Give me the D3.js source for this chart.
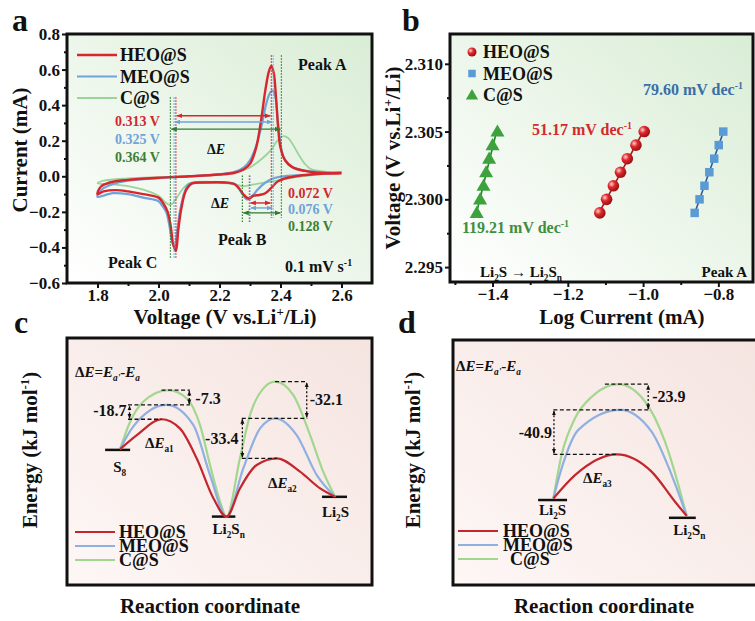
<!DOCTYPE html>
<html>
<head>
<meta charset="utf-8">
<script src="https://cdn.jsdelivr.net/npm/d3@7"></script>
<style>
  body { margin: 0; background: #fff; }
  svg text { font-family: "Liberation Serif", "Times New Roman", serif; font-weight: bold; }
</style>
</head>
<body>
<script>
// ---------------- data ----------------
var series = ["HEO@S", "MEO@S", "C@S"];

// panel a: CV loops [voltage V, current mA], cathodic sweep then anodic sweep
var heoCV = [[2.60,0.02],[2.55,0.015],[2.50,0.01],[2.45,0.0],[2.41,-0.015],[2.39,-0.03],[2.37,-0.065],
  [2.35,-0.095],[2.33,-0.105],[2.31,-0.11],[2.295,-0.125],[2.28,-0.105],[2.265,-0.07],[2.25,-0.045],
  [2.22,-0.035],[2.15,-0.035],[2.11,-0.04],[2.09,-0.08],[2.075,-0.18],[2.065,-0.30],[2.057,-0.42],
  [2.048,-0.38],[2.04,-0.28],[2.03,-0.20],[2.015,-0.15],[2.0,-0.12],[1.95,-0.10],[1.9,-0.085],
  [1.86,-0.078],[1.82,-0.085],[1.80,-0.10],
  [1.81,-0.06],[1.84,-0.035],[1.9,-0.02],[2.0,-0.008],[2.1,0.0],[2.2,0.01],[2.25,0.02],[2.28,0.04],
  [2.30,0.07],[2.32,0.16],[2.335,0.30],[2.35,0.48],[2.362,0.59],[2.37,0.62],[2.378,0.58],[2.385,0.45],
  [2.392,0.28],[2.40,0.16],[2.415,0.09],[2.44,0.05],[2.48,0.03],[2.52,0.02],[2.60,0.015]];
var meoCV = [[2.60,0.02],[2.50,0.01],[2.45,0.005],[2.41,0.0],[2.38,-0.01],[2.36,-0.025],[2.34,-0.05],
  [2.32,-0.085],[2.30,-0.125],[2.29,-0.13],[2.275,-0.10],[2.26,-0.06],[2.245,-0.04],[2.2,-0.035],
  [2.15,-0.035],[2.1,-0.045],[2.085,-0.09],[2.07,-0.20],[2.06,-0.32],[2.053,-0.40],[2.045,-0.37],
  [2.035,-0.27],[2.025,-0.20],[2.01,-0.16],[2.0,-0.14],[1.95,-0.12],[1.9,-0.10],[1.85,-0.095],[1.80,-0.115],
  [1.81,-0.08],[1.84,-0.05],[1.9,-0.025],[2.0,-0.01],[2.1,0.0],[2.2,0.012],[2.25,0.025],[2.28,0.05],
  [2.30,0.09],[2.32,0.17],[2.34,0.30],[2.355,0.42],[2.368,0.475],[2.376,0.48],[2.384,0.44],[2.392,0.30],
  [2.40,0.18],[2.41,0.11],[2.43,0.06],[2.47,0.035],[2.52,0.025],[2.60,0.02]];
var csCV = [[2.60,0.02],[2.55,0.015],[2.50,0.005],[2.45,-0.005],[2.40,-0.02],[2.35,-0.035],[2.30,-0.05],
  [2.272,-0.055],[2.25,-0.045],[2.2,-0.035],[2.15,-0.03],[2.1,-0.04],[2.08,-0.07],[2.06,-0.12],
  [2.045,-0.155],[2.036,-0.16],[2.025,-0.15],[2.0,-0.11],[1.95,-0.075],[1.9,-0.055],[1.85,-0.045],[1.80,-0.04],
  [1.82,-0.025],[1.9,-0.012],[2.0,-0.005],[2.1,0.0],[2.2,0.01],[2.25,0.02],[2.30,0.05],[2.34,0.10],
  [2.37,0.15],[2.39,0.20],[2.409,0.226],[2.425,0.215],[2.44,0.18],[2.46,0.12],[2.48,0.07],[2.50,0.04],
  [2.55,0.025],[2.60,0.02]];
var peakA = [2.370, 2.376, 2.403];
var peakB = [2.298, 2.300, 2.275];
var peakC = [2.057, 2.051, 2.039];
var gapAC = ["0.313 V", "0.325 V", "0.364 V"];
var gapAB = ["0.072 V", "0.076 V", "0.128 V"];
var arrowAC = [0.34, 0.305, 0.265];
var arrowAB = [-0.15, -0.178, -0.206];
var cvXTicks = [1.8, 2.0, 2.2, 2.4, 2.6];
var cvXMinor = [1.9, 2.1, 2.3, 2.5];
var cvYTicks = [-0.6, -0.4, -0.2, 0.0, 0.2, 0.4, 0.6, 0.8];
var cvYMinor = [-0.5, -0.3, -0.1, 0.1, 0.3, 0.5, 0.7];

// panel b: Tafel points, voltage vs log current
var tafelV = [2.299, 2.300, 2.301, 2.302, 2.303, 2.304, 2.305];
var heoLogI = [-1.115, -1.097, -1.079, -1.060, -1.042, -1.019, -0.997];
var meoLogI = [-0.863, -0.850, -0.837, -0.824, -0.811, -0.799, -0.787];
var csLogI = [-1.442, -1.433, -1.424, -1.417, -1.409, -1.400, -1.387];
var tafelSlopes = ["51.17", "79.60", "119.21"];
var tafelXTicks = [-1.4, -1.2, -1.0, -0.8];
var tafelXMinor = [-1.5, -1.3, -1.1, -0.9];
var tafelYTicks = [2.295, 2.300, 2.305, 2.310];
var tafelYMinor = [2.2975, 2.3025, 2.3075];

// panel c: energy profile [reaction coordinate, relative energy]
var heoPathC = [[1.74,55],[2.29,60.7],[3.10,67.1],[3.70,63.4],[4.25,51.3],[4.80,35.1],[5.23,27.7],
  [5.67,39.1],[6.22,48.6],[6.88,51.3],[7.64,45.9],[8.30,39.1],[8.79,35.7]];
var meoPathC = [[1.74,55],[2.17,64.1],[3.27,72.9],[4.14,64.8],[4.69,44.5],[5.23,27.7],
  [5.78,47.2],[6.33,63.4],[6.82,67.5],[7.53,60.7],[8.19,44.5],[8.79,35.7]];
var csPathC = [[1.74,55],[2.07,66.1],[2.50,74.2],[3.32,78.9],[3.92,75.6],[4.36,64.8],[4.69,48.6],
  [5.02,33.7],[5.23,27.7],[5.67,51.3],[6.0,68.8],[6.44,79.6],[6.82,82.3],[7.42,76.9],[7.97,60.7],
  [8.40,45.9],[8.79,35.7]];
var levelsC = [["S8", 1.25, 2.07, 54.7], ["Li2Sn", 4.75, 5.52, 27.7], ["Li2S", 8.36, 9.18, 35.7]];
var gapsC = ["-18.7", "-7.3", "-33.4", "-32.1"];

// panel d: energy profile
var heoPathD = [[3.29,35],[4.0,44.5],[5.37,52.9],[6.51,45.9],[7.28,33.7],[7.66,28]];
var meoPathD = [[3.29,35],[3.56,47.2],[4.11,62.8],[5.48,70.9],[6.51,62.1],[7.17,44.5],[7.66,28]];
var csPathD = [[3.29,35],[3.56,52.6],[4.0,67.5],[4.55,76.2],[5.42,81.3],[6.30,74.2],[6.95,58.0],[7.39,40.5],[7.66,28]];
var levelsD = [["Li2S", 2.79, 3.74, 34.4], ["Li2Sn", 7.08, 7.96, 27.2]];
var gapsD = ["-23.9", "-40.9"];

// ---------------- styles ----------------
var cvColors = ["#d7262c", "#6fa3da", "#9bd49b"];
var cvTextColors = ["#d0282e", "#6fa3da", "#3d7f35"];
var cvDotColors = ["#d7262c", "#6fa3da", "#2f7d32"];
var cvWidths = [2.4, 2.2, 1.8];
var tafelFill = ["#e0282c", "#5b9bd5", "#3da23d"];
var tafelLine = ["#a8161b", "#2a5b9e", "#27802a"];
var tafelText = ["#d42a2e", "#3a6ea5", "#3f8f3f"];
var profColors = ["#c3262c", "#8fb0e0", "#a3d68e"];

var svg = d3.select("body").append("svg").attr("width", 755).attr("height", 621);
var defs = svg.append("defs");

function grad(id, c0, c1) {
  var g = defs.append("linearGradient").attr("id", id)
      .attr("x1", 0).attr("y1", 1).attr("x2", 1).attr("y2", 0);
  g.append("stop").attr("offset", "0%").attr("stop-color", c0);
  g.append("stop").attr("offset", "100%").attr("stop-color", c1);
}
grad("bgGreen", "#ffffff", "#d9edd5");
grad("bgPink", "#fdf7f6", "#f5e4e0");

function arrowMarker(id, color, size) {
  defs.append("marker").attr("id", id).attr("viewBox", "0 0 10 10")
      .attr("refX", 9).attr("refY", 5)
      .attr("markerWidth", size).attr("markerHeight", size)
      .attr("markerUnits", "userSpaceOnUse").attr("orient", "auto-start-reverse")
    .append("path").attr("d", "M0,1L10,5L0,9Z").attr("fill", color);
}
cvDotColors.forEach(function(c, i) { arrowMarker("arr" + i, c, 6); });
arrowMarker("arrK", "#111", 5);

var ball = defs.append("radialGradient").attr("id", "ball").attr("cx", "35%").attr("cy", "35%").attr("r", "65%");
ball.append("stop").attr("offset", "0%").attr("stop-color", "#ffd0d0");
ball.append("stop").attr("offset", "45%").attr("stop-color", "#e0282c");
ball.append("stop").attr("offset", "100%").attr("stop-color", "#9c1014");

// text with sub/superscripts: parts = [[text, "sub"|"sup"|null, italic]]
function rich(t, parts, size) {
  var cur = 0;
  parts.forEach(function(p) {
    var off = p[1] === "sub" ? size * 0.28 : p[1] === "sup" ? -size * 0.4 : 0;
    var ts = t.append("tspan").attr("dy", off - cur).text(p[0]);
    if (p[1]) ts.attr("font-size", size * 0.62);
    if (p[2]) ts.attr("font-style", "italic");
    cur = off;
  });
  return t;
}

function label(x, y, parts, size, opts) {
  opts = opts || {};
  var t = svg.append("text").attr("x", x).attr("y", y + size * 0.34)
      .attr("font-size", size).attr("fill", opts.fill || "#111")
      .attr("text-anchor", opts.anchor || "start");
  if (opts.rotate) t.attr("transform", "rotate(-90," + x + "," + y + ")");
  if (typeof parts === "string") t.text(parts); else rich(t, parts, size);
  return t;
}

function chem(name) {
  if (name === "S8") return [["S"], ["8", "sub"]];
  if (name === "Li2Sn") return [["Li"], ["2", "sub"], ["S"], ["n", "sub"]];
  return [["Li"], ["2", "sub"], ["S"]];
}

function panelBox(id, x0, y0, x1, y1, fill) {
  svg.append("rect").attr("x", x0).attr("y", y0).attr("width", x1 - x0).attr("height", y1 - y0)
      .attr("fill", "url(#" + fill + ")");
  defs.append("clipPath").attr("id", id)
    .append("rect").attr("x", x0).attr("y", y0).attr("width", x1 - x0).attr("height", y1 - y0);
  return svg.append("g").attr("clip-path", "url(#" + id + ")");
}
function frame(x0, y0, x1, y1) {
  svg.append("rect").attr("x", x0).attr("y", y0).attr("width", x1 - x0).attr("height", y1 - y0)
      .attr("fill", "none").attr("stroke", "#111").attr("stroke-width", 3);
}

function axes(x, y, xt, xm, yt, ym, xf, yf) {
  var yb = y.range()[0], xl = x.range()[0];
  function style(g) {
    g.select(".domain").remove();
    g.selectAll("line").attr("stroke", "#111").attr("stroke-width", 2);
    g.selectAll("text").attr("font-size", 17).attr("fill", "#111")
      .style("font-family", "'Liberation Serif','Times New Roman',serif").style("font-weight", "bold");
  }
  svg.append("g").attr("transform", "translate(0," + yb + ")")
    .call(d3.axisBottom(x).tickValues(xt).tickSize(5).tickPadding(1).tickFormat(d3.format(xf))).call(style);
  svg.append("g").attr("transform", "translate(0," + yb + ")")
    .call(d3.axisBottom(x).tickValues(xm).tickSize(3).tickFormat("")).call(style);
  svg.append("g").attr("transform", "translate(" + xl + ",0)")
    .call(d3.axisLeft(y).tickValues(yt).tickSize(5).tickPadding(2).tickFormat(d3.format(yf))).call(style);
  svg.append("g").attr("transform", "translate(" + xl + ",0)")
    .call(d3.axisLeft(y).tickValues(ym).tickSize(3).tickFormat("")).call(style);
}

// ---------------- panel a ----------------
var xA = d3.scaleLinear().domain([1.7, 2.7]).range([67, 372]);
var yA = d3.scaleLinear().domain([-0.6, 0.8]).range([283, 34]);
var gA = panelBox("clipA", 67, 34, 372, 283, "bgGreen");

var cvLine = d3.line().x(function(d) { return xA(d[0]); }).y(function(d) { return yA(d[1]); })
    .curve(d3.curveCatmullRom.alpha(0.5));
var cvData = [heoCV, meoCV, csCV];
[2, 1, 0].forEach(function(i) {
  gA.append("path").attr("d", cvLine(cvData[i])).attr("fill", "none")
    .attr("stroke", cvColors[i]).attr("stroke-width", cvWidths[i]).attr("stroke-linejoin", "round");
});

// dotted guides and ΔE arrows
function vDot(v, top, bot, i) {
  gA.append("line").attr("x1", xA(v)).attr("x2", xA(v)).attr("y1", yA(top)).attr("y2", yA(bot))
    .attr("stroke", cvDotColors[i]).attr("stroke-width", 1.2).attr("stroke-dasharray", "1.5,1.5");
}
[0, 1, 2].forEach(function(i) {
  vDot(peakA[i], 0.68, -0.235, i);
  vDot(peakC[i], 0.445, -0.46, i);
  vDot(peakB[i], 0.005, -0.26, i);
  gA.append("line").attr("x1", xA(peakC[i]) + 1).attr("x2", xA(peakA[i]) - 1)
    .attr("y1", yA(arrowAC[i])).attr("y2", yA(arrowAC[i]))
    .attr("stroke", cvDotColors[i]).attr("stroke-width", 1.4)
    .attr("marker-start", "url(#arr" + i + ")").attr("marker-end", "url(#arr" + i + ")");
  gA.append("line").attr("x1", xA(peakB[i]) + 1).attr("x2", xA(peakA[i]) - 1)
    .attr("y1", yA(arrowAB[i])).attr("y2", yA(arrowAB[i]))
    .attr("stroke", cvDotColors[i]).attr("stroke-width", 1.4)
    .attr("marker-start", "url(#arr" + i + ")").attr("marker-end", "url(#arr" + i + ")");
});
frame(67, 34, 372, 283);
axes(xA, yA, cvXTicks, cvXMinor, cvYTicks, cvYMinor, ".1f", ".1f");

// legend a
series.forEach(function(s, i) {
  var yy = 55 + i * 21.5;
  svg.append("line").attr("x1", 77).attr("x2", 117).attr("y1", yy).attr("y2", yy)
    .attr("stroke", cvColors[i]).attr("stroke-width", cvWidths[i]);
  label(120, yy, s, 18);
});
gapAC.forEach(function(s, i) { label(115, 121 + i * 18, s, 14, { fill: cvTextColors[i] }); });
gapAB.forEach(function(s, i) { label(288, 193 + i * 16.5, s, 14, { fill: cvTextColors[i] }); });
label(207, 149, [["Δ"], ["E", null, true]], 14);
label(211, 203, [["Δ"], ["E", null, true]], 14);
label(298, 65, "Peak A", 16);
label(218, 240, "Peak B", 16);
label(108, 263, "Peak C", 16);
label(285, 267, [["0.1 mV s"], ["-1", "sup"]], 16);
label(225, 317, [["Voltage (V vs.Li"], ["+", "sup"], ["/Li)"]], 21, { anchor: "middle" });
label(20, 150, "Current (mA)", 21, { anchor: "middle", rotate: true });
label(12, 20, "a", 32);

// ---------------- panel b ----------------
var xB = d3.scaleLinear().domain([-1.513, -0.708]).range([450, 753]);
var yB = d3.scaleLinear().domain([2.2939, 2.3122]).range([282, 34]);
var gB = panelBox("clipB", 450, 34, 753, 282, "bgGreen");
var tafelData = [heoLogI, meoLogI, csLogI];

tafelData.forEach(function(xs, i) {
  var mx = d3.mean(xs), my = d3.mean(tafelV);
  var b = d3.sum(xs, function(x, k) { return (x - mx) * (tafelV[k] - my); }) /
          d3.sum(xs, function(x) { return (x - mx) * (x - mx); });
  var a = my - b * mx;
  var ext = d3.extent(xs);
  gB.append("line").attr("x1", xB(ext[0])).attr("x2", xB(ext[1]))
    .attr("y1", yB(a + b * ext[0])).attr("y2", yB(a + b * ext[1]))
    .attr("stroke", tafelLine[i]).attr("stroke-width", 1.6);
});
function marker(g, i, cx, cy, big) {
  if (i === 0) {
    g.append("circle").attr("cx", cx).attr("cy", cy).attr("r", big ? 5.8 : 4.5).attr("fill", "url(#ball)");
  } else if (i === 1) {
    var s = big ? 8.5 : 7.5;
    g.append("rect").attr("x", cx - s / 2).attr("y", cy - s / 2).attr("width", s).attr("height", s)
      .attr("fill", tafelFill[1]);
  } else {
    g.append("path").attr("d", d3.symbol(d3.symbolTriangle, big ? 85 : 65)())
      .attr("transform", "translate(" + cx + "," + (cy + 1) + ")").attr("fill", tafelFill[2]);
  }
}
tafelData.forEach(function(xs, i) {
  xs.forEach(function(x, k) { marker(gB, i, xB(x), yB(tafelV[k]), true); });
});
frame(450, 34, 753, 282);
axes(xB, yB, tafelXTicks, tafelXMinor, tafelYTicks, tafelYMinor, ".1f", ".3f");

series.forEach(function(s, i) {
  var yy = 52 + i * 21.5;
  marker(svg, i, 472, yy, false);
  label(483, yy, s, 18);
});
label(532, 130, [[tafelSlopes[0] + " mV dec"], ["-1", "sup"]], 16, { fill: tafelText[0] });
label(643, 90, [[tafelSlopes[1] + " mV dec"], ["-1", "sup"]], 16, { fill: tafelText[1] });
label(462, 228, [[tafelSlopes[2] + " mV dec"], ["-1", "sup"]], 16, { fill: tafelText[2] });
label(480, 272, [["Li"], ["2", "sub"], ["S → Li"], ["2", "sub"], ["S"], ["n", "sub"]], 15);
label(747, 272, "Peak A", 15, { anchor: "end" });
label(622, 317, "Log Current (mA)", 21, { anchor: "middle" });
label(393, 158, [["Voltage (V vs.Li"], ["+", "sup"], ["/Li)"]], 21, { anchor: "middle", rotate: true });
label(402, 20, "b", 32);

// ---------------- panels c, d ----------------
function profilePanel(id, x0, x1, top, paths, levels) {
  var x = d3.scaleLinear().domain([0, 10]).range([x0, x0 + 305]);
  var y = d3.scaleLinear().domain([0, 100]).range([585, 338]);
  var g = panelBox(id, x0, top, x1, 585, "bgPink");
  var line = d3.line().x(function(d) { return x(d[0]); }).y(function(d) { return y(d[1]); })
      .curve(d3.curveMonotoneX);
  levels.forEach(function(l) {
    g.append("line").attr("x1", x(l[1])).attr("x2", x(l[2])).attr("y1", y(l[3])).attr("y2", y(l[3]))
      .attr("stroke", "#111").attr("stroke-width", 2.5);
  });
  [2, 1, 0].forEach(function(i) {
    g.append("path").attr("d", line(paths[i])).attr("fill", "none")
      .attr("stroke", profColors[i]).attr("stroke-width", 2.2);
  });
  frame(x0, top, x1, 585);
  return { x: x, y: y, g: g };
}
function dash(p, xa, xb, e) {
  p.g.append("line").attr("x1", p.x(xa)).attr("x2", p.x(xb)).attr("y1", p.y(e)).attr("y2", p.y(e))
    .attr("stroke", "#111").attr("stroke-width", 1.3).attr("stroke-dasharray", "4,2.5");
}
function vArrow(p, xv, e0, e1) {
  p.g.append("line").attr("x1", p.x(xv)).attr("x2", p.x(xv)).attr("y1", p.y(e0) - 1).attr("y2", p.y(e1) + 1)
    .attr("stroke", "#111").attr("stroke-width", 1.3).attr("stroke-dasharray", "2,2")
    .attr("marker-start", "url(#arrK)").attr("marker-end", "url(#arrK)");
}
function profLegend(xl0, xt, yy) {
  series.forEach(function(s, i) {
    svg.append("line").attr("x1", xl0).attr("x2", xl0 + 40).attr("y1", yy[i]).attr("y2", yy[i])
      .attr("stroke", profColors[i]).attr("stroke-width", 2.2);
    label(xt[i], yy[i], s, 18);
  });
}
function eqLabel(x, y) {
  label(x, y, [["Δ"], ["E", null, true], ["="], ["E", null, true], ["a'", "sub", true], ["-"],
    ["E", null, true], ["a", "sub", true]], 15);
}

// panel c
var pC = profilePanel("clipC", 67, 372, 338, [heoPathC, meoPathC, csPathC], levelsC);
var hc1 = heoPathC[2][1], mc1 = meoPathC[2][1], cc1 = csPathC[3][1];
var hc2 = heoPathC[9][1], mc2 = meoPathC[8][1], cc2 = csPathC[12][1];
dash(pC, 2.0, 3.1, hc1);
dash(pC, 2.0, 4.03, mc1);
dash(pC, 3.1, 4.03, cc1);
vArrow(pC, 2.05, hc1, mc1);
vArrow(pC, 4.01, mc1, cc1);
dash(pC, 5.73, 6.88, hc2);
dash(pC, 5.73, 7.88, mc2);
dash(pC, 6.82, 7.88, cc2);
vArrow(pC, 5.75, hc2, mc2);
vArrow(pC, 7.86, mc2, cc2);
label(pC.x(2.05) - 3, pC.y((hc1 + mc1) / 2) - 2, gapsC[0], 16, { anchor: "end" });
label(pC.x(4.01) + 6, pC.y((mc1 + cc1) / 2) + 1, gapsC[1], 16);
label(pC.x(5.75) - 4, pC.y((hc2 + mc2) / 2), gapsC[2], 16, { anchor: "end" });
label(pC.x(7.86) + 3, pC.y((mc2 + cc2) / 2), gapsC[3], 16);
levelsC.forEach(function(l, k) {
  label(pC.x((l[1] + l[2]) / 2) + [2, 5, 1][k], pC.y(l[3]) + [17, 12, 15][k], chem(l[0]), 15, { anchor: "middle" });
});
label(145, 443, [["Δ"], ["E", null, true], ["a1", "sub"]], 15);
label(268, 483, [["Δ"], ["E", null, true], ["a2", "sub"]], 15);
eqLabel(75, 372);
profLegend(75, [119, 119, 119], [532, 546, 560]);
label(210, 606, "Reaction coordinate", 21, { anchor: "middle" });
label(30, 450, [["Energy (kJ mol"], ["-1", "sup"], [")"]], 21, { anchor: "middle", rotate: true });
label(14, 322, "c", 32);

// panel d
var pD = profilePanel("clipD", 453, 760, 340, [heoPathD, meoPathD, csPathD], levelsD);
var hd = heoPathD[2][1], md = meoPathD[3][1], cd = csPathD[4][1];
dash(pD, 4.98, 6.42, cd);
dash(pD, 3.29, 6.42, md);
dash(pD, 3.29, 5.37, hd);
vArrow(pD, 6.40, md, cd);
vArrow(pD, 3.31, hd, md);
label(pD.x(6.40) + 4, pD.y((md + cd) / 2), gapsD[0], 16);
label(pD.x(3.31) - 2, pD.y((hd + md) / 2), gapsD[1], 16, { anchor: "end" });
levelsD.forEach(function(l, k) {
  label(pD.x((l[1] + l[2]) / 2) + [0, 7][k], pD.y(l[3]) + [10, 12][k], chem(l[0]), 15, { anchor: "middle" });
});
label(583, 478, [["Δ"], ["E", null, true], ["a3", "sub"]], 15);
eqLabel(456, 366);
profLegend(458, [503, 503, 510], [531, 545, 559]);
label(604, 606, "Reaction coordinate", 21, { anchor: "middle" });
label(413, 450, [["Energy (kJ mol"], ["-1", "sup"], [")"]], 21, { anchor: "middle", rotate: true });
label(398, 322, "d", 32);
</script>
</body>
</html>
